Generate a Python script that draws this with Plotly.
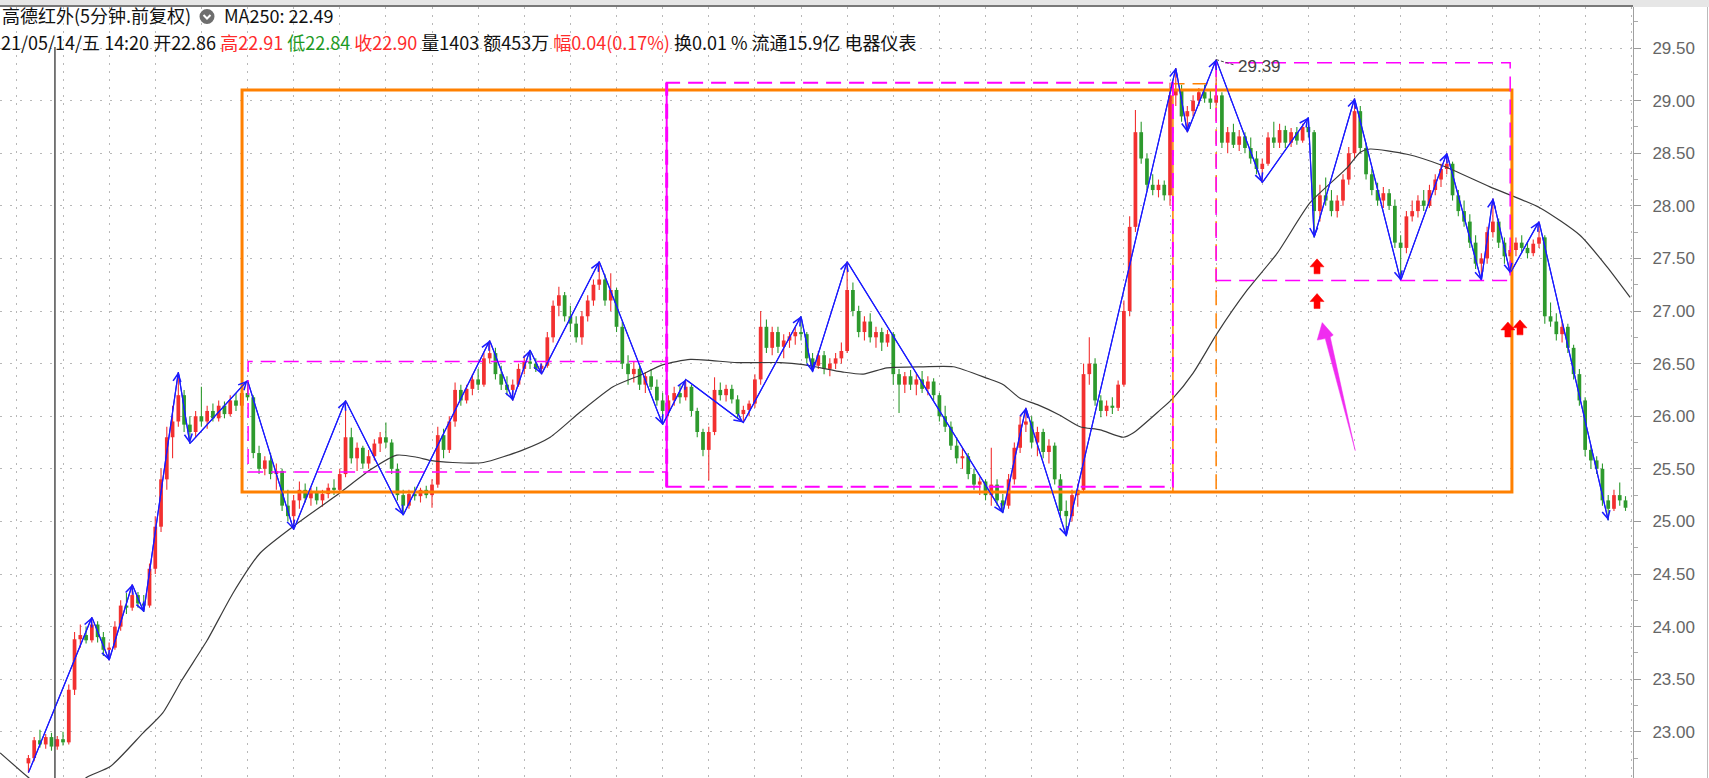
import plotly.graph_objects as go

# ---------------- data ----------------
bar_index = list(range(1, 279))

open_ = [
    22.70, 22.75, 22.92, 22.88, 22.95, 22.86, 22.93, 22.90, 23.40, 23.88,
    23.92, 23.87, 24.02, 23.90, 23.78, 23.80, 24.00, 24.20, 24.18, 24.30,
    24.22, 24.20, 24.55, 24.95, 25.40, 25.80, 25.95, 26.20, 25.92, 25.85,
    26.00, 25.95, 26.05, 25.98, 26.10, 26.02, 26.15, 26.10, 26.22, 26.18,
    25.65, 25.50, 25.58, 25.45, 25.48, 25.15, 25.05, 25.20, 25.30, 25.22,
    25.28, 25.20, 25.26, 25.32, 25.30, 25.45, 25.80, 25.60, 25.70, 25.55,
    25.62, 25.74, 25.80, 25.75, 25.50, 25.25, 25.15, 25.26, 25.24, 25.30,
    25.25, 25.35, 25.82, 25.68, 25.95, 26.25, 26.15, 26.26, 26.35, 26.30,
    26.55, 26.60, 26.40, 26.30, 26.25, 26.30, 26.45, 26.52, 26.50, 26.45,
    26.48, 26.75, 27.05, 27.15, 26.95, 26.88, 26.75, 26.95, 27.10, 27.25,
    27.30, 27.10, 27.20, 26.85, 26.50, 26.40, 26.45, 26.30, 26.38, 26.28,
    26.15, 26.05, 26.15, 26.22, 26.18, 26.28, 26.05, 25.85, 25.68, 25.85,
    26.25, 26.20, 26.26, 26.16, 26.02, 26.06, 26.12, 26.35, 26.85, 26.65,
    26.80, 26.66, 26.72, 26.76, 26.80, 26.78, 26.55, 26.48, 26.58, 26.45,
    26.50, 26.55, 26.62, 27.20, 27.00, 26.80, 26.90, 26.75, 26.80, 26.70,
    26.78, 26.40, 26.30, 26.38, 26.30, 26.35, 26.26, 26.33, 26.20, 26.00,
    25.90, 25.72, 25.60, 25.62, 25.45, 25.35, 25.38, 25.25, 25.35, 25.20,
    25.15, 25.40, 25.70, 25.92, 25.95, 25.75, 25.85, 25.66, 25.72, 25.40,
    25.10, 25.05, 25.25, 25.30, 26.40, 26.50, 26.15, 26.05, 26.10, 26.08,
    26.30, 27.00, 27.80, 28.70, 28.45, 28.20, 28.15, 28.20, 28.10, 29.05,
    29.10, 28.85, 28.90, 29.00, 29.08, 29.02, 28.98, 29.05, 28.60, 28.70,
    28.58, 28.66, 28.55, 28.45, 28.35, 28.40, 28.65, 28.60, 28.72, 28.60,
    28.70, 28.62, 28.75, 28.70, 27.95, 28.10, 28.05, 27.95, 28.05, 28.25,
    28.50, 28.90, 28.55, 28.30, 28.15, 28.05, 28.12, 28.00, 27.65, 27.60,
    27.90, 27.95, 28.05, 28.00, 28.15, 28.25, 28.35, 28.40, 28.10, 27.95,
    27.85, 27.65, 27.45, 27.50, 27.75, 27.85, 27.65, 27.52, 27.58, 27.65,
    27.60, 27.55, 27.64, 27.70, 26.95, 26.90, 26.78, 26.85, 26.65, 26.40,
    26.15, 25.68, 25.58, 25.50, 25.20, 25.12, 25.25, 25.20,
]

high = [
    22.78, 22.95, 23.02, 22.98, 22.99, 22.96, 23.00, 23.45, 23.95, 24.02,
    24.00, 24.09, 24.05, 23.95, 23.85, 24.05, 24.25, 24.32, 24.40, 24.33,
    24.30, 24.60, 25.05, 25.50, 25.90, 26.10, 26.42, 26.25, 26.00, 26.05,
    26.28, 26.10, 26.12, 26.15, 26.14, 26.20, 26.22, 26.28, 26.34, 26.20,
    25.72, 25.62, 25.65, 25.55, 25.50, 25.30, 25.25, 25.38, 25.36, 25.32,
    25.33, 25.30, 25.36, 25.40, 25.50, 26.15, 25.89, 25.75, 25.72, 25.68,
    25.78, 25.85, 25.94, 25.78, 25.55, 25.30, 25.30, 25.33, 25.32, 25.34,
    25.40, 25.90, 25.88, 26.00, 26.32, 26.30, 26.30, 26.40, 26.45, 26.60,
    26.72, 26.65, 26.48, 26.38, 26.35, 26.50, 26.58, 26.63, 26.55, 26.50,
    26.80, 27.10, 27.23, 27.18, 27.05, 26.95, 27.00, 27.15, 27.30, 27.47,
    27.35, 27.36, 27.22, 26.90, 26.58, 26.52, 26.48, 26.42, 26.45, 26.35,
    26.22, 26.20, 26.28, 26.30, 26.35, 26.30, 26.08, 25.88, 25.90, 26.37,
    26.32, 26.30, 26.30, 26.20, 26.10, 26.15, 26.40, 27.00, 26.92, 26.85,
    26.85, 26.78, 26.80, 26.85, 26.95, 26.80, 26.60, 26.62, 26.62, 26.55,
    26.60, 26.70, 27.47, 27.27, 27.05, 26.95, 26.98, 26.85, 26.84, 26.82,
    26.80, 26.45, 26.42, 26.44, 26.40, 26.43, 26.38, 26.36, 26.22, 26.10,
    25.95, 25.80, 25.70, 25.65, 25.50, 25.42, 25.40, 25.70, 25.40, 25.26,
    25.45, 25.75, 26.00, 26.08, 26.00, 25.90, 25.88, 25.78, 25.75, 25.45,
    25.20, 25.30, 25.36, 26.50, 26.75, 26.55, 26.20, 26.15, 26.18, 26.34,
    27.10, 27.90, 28.91, 28.80, 28.50, 28.30, 28.25, 28.24, 29.17, 29.31,
    29.15, 28.95, 29.05, 29.12, 29.15, 29.10, 29.39, 29.08, 28.75, 28.78,
    28.72, 28.70, 28.65, 28.52, 28.45, 28.70, 28.80, 28.78, 28.76, 28.74,
    28.75, 28.78, 28.84, 28.72, 28.20, 28.27, 28.15, 28.10, 28.30, 28.56,
    29.02, 28.95, 28.60, 28.35, 28.22, 28.18, 28.16, 28.06, 27.72, 27.95,
    28.05, 28.10, 28.15, 28.20, 28.30, 28.40, 28.50, 28.42, 28.15, 28.05,
    27.92, 27.72, 27.55, 27.80, 28.07, 27.88, 27.70, 27.62, 27.70, 27.72,
    27.66, 27.68, 27.85, 27.72, 27.08, 26.98, 26.90, 26.88, 26.68, 26.45,
    26.18, 25.72, 25.62, 25.55, 25.25, 25.30, 25.37, 25.24,
]

low = [
    22.61, 22.72, 22.85, 22.84, 22.82, 22.83, 22.87, 22.88, 23.35, 23.80,
    23.84, 23.85, 23.85, 23.72, 23.68, 23.78, 23.96, 24.12, 24.15, 24.18,
    24.14, 24.18, 24.50, 24.90, 25.30, 25.60, 25.90, 25.85, 25.74, 25.80,
    25.90, 25.88, 25.95, 25.95, 25.98, 26.00, 26.05, 26.06, 26.15, 25.60,
    25.45, 25.44, 25.40, 25.30, 25.10, 25.00, 24.92, 25.12, 25.18, 25.15,
    25.16, 25.14, 25.22, 25.25, 25.28, 25.42, 25.55, 25.48, 25.50, 25.50,
    25.58, 25.66, 25.70, 25.45, 25.20, 25.06, 25.12, 25.20, 25.18, 25.22,
    25.13, 25.32, 25.60, 25.65, 25.90, 26.10, 26.12, 26.20, 26.25, 26.28,
    26.50, 26.35, 26.25, 26.20, 26.15, 26.28, 26.40, 26.45, 26.42, 26.40,
    26.46, 26.70, 26.95, 26.90, 26.80, 26.70, 26.68, 26.90, 27.05, 27.20,
    27.05, 27.00, 26.80, 26.45, 26.30, 26.32, 26.25, 26.22, 26.25, 26.10,
    25.92, 26.00, 26.10, 26.12, 26.15, 26.00, 25.80, 25.62, 25.39, 25.82,
    26.15, 26.14, 26.12, 25.98, 25.94, 26.00, 26.08, 26.30, 26.60, 26.58,
    26.60, 26.55, 26.65, 26.68, 26.72, 26.50, 26.42, 26.45, 26.40, 26.38,
    26.45, 26.50, 26.60, 26.95, 26.75, 26.72, 26.70, 26.65, 26.62, 26.66,
    26.30, 26.03, 26.22, 26.25, 26.20, 26.22, 26.20, 26.15, 25.95, 25.85,
    25.68, 25.55, 25.50, 25.40, 25.30, 25.25, 25.20, 25.15, 25.15, 25.08,
    25.12, 25.35, 25.65, 25.85, 25.70, 25.62, 25.60, 25.55, 25.35, 25.05,
    24.86, 25.00, 25.14, 25.28, 26.30, 26.10, 25.99, 26.00, 26.02, 26.05,
    26.28, 26.95, 27.75, 28.40, 28.15, 28.10, 28.08, 28.05, 28.00, 28.95,
    28.80, 28.70, 28.85, 28.95, 28.98, 28.92, 28.95, 28.55, 28.50, 28.55,
    28.52, 28.50, 28.40, 28.30, 28.22, 28.38, 28.55, 28.55, 28.55, 28.56,
    28.58, 28.60, 28.65, 27.70, 27.85, 28.00, 27.90, 27.89, 28.00, 28.20,
    28.45, 28.50, 28.25, 28.10, 28.00, 27.98, 27.96, 27.60, 27.29, 27.55,
    27.85, 27.89, 27.95, 27.98, 28.10, 28.18, 28.30, 28.05, 27.90, 27.80,
    27.60, 27.40, 27.29, 27.45, 27.70, 27.60, 27.45, 27.36, 27.52, 27.55,
    27.50, 27.52, 27.60, 26.88, 26.85, 26.72, 26.70, 26.60, 26.35, 26.10,
    25.62, 25.50, 25.45, 25.15, 25.01, 25.10, 25.15, 25.10,
]

close = [
    22.75, 22.92, 22.88, 22.95, 22.86, 22.93, 22.90, 23.40, 23.88, 23.92,
    23.87, 24.02, 23.90, 23.78, 23.80, 24.00, 24.20, 24.18, 24.30, 24.22,
    24.20, 24.55, 24.95, 25.40, 25.80, 25.95, 26.20, 25.92, 25.85, 26.00,
    25.95, 26.05, 25.98, 26.10, 26.02, 26.15, 26.10, 26.22, 26.18, 25.65,
    25.50, 25.58, 25.45, 25.48, 25.15, 25.05, 25.20, 25.30, 25.22, 25.28,
    25.20, 25.26, 25.32, 25.30, 25.45, 25.80, 25.60, 25.70, 25.55, 25.62,
    25.74, 25.80, 25.75, 25.50, 25.25, 25.15, 25.26, 25.24, 25.30, 25.25,
    25.35, 25.82, 25.68, 25.95, 26.25, 26.15, 26.26, 26.35, 26.30, 26.55,
    26.60, 26.40, 26.30, 26.25, 26.30, 26.45, 26.52, 26.50, 26.45, 26.48,
    26.75, 27.05, 27.15, 26.95, 26.88, 26.75, 26.95, 27.10, 27.25, 27.30,
    27.10, 27.20, 26.85, 26.50, 26.40, 26.45, 26.30, 26.38, 26.28, 26.15,
    26.05, 26.15, 26.22, 26.18, 26.28, 26.05, 25.85, 25.68, 25.85, 26.25,
    26.20, 26.26, 26.16, 26.02, 26.06, 26.12, 26.35, 26.85, 26.65, 26.80,
    26.66, 26.72, 26.76, 26.80, 26.78, 26.55, 26.48, 26.58, 26.45, 26.50,
    26.55, 26.62, 27.20, 27.00, 26.80, 26.90, 26.75, 26.80, 26.70, 26.78,
    26.40, 26.30, 26.38, 26.30, 26.35, 26.26, 26.33, 26.20, 26.00, 25.90,
    25.72, 25.60, 25.62, 25.45, 25.35, 25.38, 25.25, 25.35, 25.20, 25.15,
    25.40, 25.70, 25.92, 25.95, 25.75, 25.85, 25.66, 25.72, 25.40, 25.10,
    25.05, 25.25, 25.30, 26.40, 26.50, 26.15, 26.05, 26.10, 26.08, 26.30,
    27.00, 27.80, 28.70, 28.45, 28.20, 28.15, 28.20, 28.10, 29.05, 29.10,
    28.85, 28.90, 29.00, 29.08, 29.02, 28.98, 29.05, 28.60, 28.70, 28.58,
    28.66, 28.55, 28.45, 28.35, 28.40, 28.65, 28.60, 28.72, 28.60, 28.70,
    28.62, 28.75, 28.70, 27.95, 28.10, 28.05, 27.95, 28.05, 28.25, 28.50,
    28.90, 28.55, 28.30, 28.15, 28.05, 28.12, 28.00, 27.65, 27.60, 27.90,
    27.95, 28.05, 28.00, 28.15, 28.25, 28.35, 28.40, 28.10, 27.95, 27.85,
    27.65, 27.45, 27.50, 27.75, 27.85, 27.65, 27.52, 27.58, 27.65, 27.60,
    27.55, 27.64, 27.70, 26.95, 26.90, 26.78, 26.85, 26.65, 26.40, 26.15,
    25.68, 25.58, 25.50, 25.20, 25.12, 25.25, 25.20, 25.13,
]

# zigzag (swing) vertices: bar index and price
zz_index = [1, 12, 15, 19, 21, 27, 29, 39, 47, 56, 66, 81, 85, 88, 90, 100, 111, 115, 125, 135,
            137, 143, 170, 174, 181, 200, 202, 207, 215, 223, 224, 231, 239, 247, 253, 255, 258, 263, 275]
zz_price = [22.61, 24.09, 23.68, 24.40, 24.14, 26.42, 25.74, 26.34, 24.92, 26.15, 25.06, 26.72, 26.15,
            26.63, 26.40, 27.47, 25.92, 26.35, 25.94, 26.95, 26.42, 27.47, 25.08, 26.08, 24.86, 29.31,
            28.70, 29.39, 28.22, 28.84, 27.70, 29.02, 27.29, 28.50, 27.29, 28.07, 27.36, 27.85, 25.01]

# MA250 line
ma_index = [-3.9, 0.9, 6.0, 11.2, 15.2, 20.9, 24.3, 27.6, 32.0, 36.5, 41.2, 47.6, 55.0, 60.3, 64.9,
            68.4, 70.7, 74.6, 79.9, 86.8, 91.5, 96.7, 102.4, 107.1, 111.1, 115.8, 123.9, 131.4, 135.4,
            142.3, 145.8, 149.9, 156.2, 161.4, 167.3, 170.1, 173.0, 176.0, 179.9, 183.4, 186.9, 190.9,
            192.6, 197.3, 199.5, 203.0, 207.2, 212.4, 217.6, 223.3, 229.7, 232.0, 233.7, 240.1, 245.9,
            254.5, 263.2, 270.1, 274.8, 278.8]
ma_value = [22.80, 22.57, 22.35, 22.57, 22.67, 22.99, 23.18, 23.49, 23.87, 24.32, 24.70, 24.98, 25.27,
            25.49, 25.63, 25.61, 25.58, 25.56, 25.56, 25.68, 25.80, 26.04, 26.28, 26.39, 26.49, 26.54,
            26.51, 26.51, 26.49, 26.42, 26.40, 26.46, 26.47, 26.47, 26.36, 26.30, 26.17, 26.11, 26.01,
            25.90, 25.87, 25.80, 25.84, 26.06, 26.17, 26.41, 26.79, 27.20, 27.55, 28.03, 28.36, 28.51,
            28.54, 28.49, 28.39, 28.18, 27.98, 27.72, 27.42, 27.13]

# drawn boxes: (x0, x1, y0, y1) in bar index / price
orange_box = (38.05, 258.3, 25.28, 29.10)
orange_dash_box = (199.5, 207.0, 25.28, 29.16)
magenta_boxes = [(39.1, 111.7, 25.47, 26.52), (111.7, 199.5, 25.33, 29.17), (207.0, 258.0, 27.29, 29.36)]
crosshair_x = 5.6
crosshair_top = 29.51

red_arrows_x = [224.5, 224.5, 257.6, 259.7]
red_arrows_y = [27.42, 27.09, 26.82, 26.84]
pink_arrow_tip = (225.4, 26.89)

peak_label = "29.39"
peak_label_pos = (210.4, 29.32)

title_text = "高德红外(5分钟.前复权)"
ma_text = "MA250: 22.49"
info_parts = [("21/05/14/五 14:20 开22.86", "#111111"), ("高22.91", "#ff2b2b"), ("低22.84", "#1f9a1f"),
              ("收22.90", "#ff2b2b"), ("量1403 额453万", "#111111"), ("幅0.04(0.17%)", "#ff2b2b"),
              ("换0.01 % 流通15.9亿 电器仪表", "#111111")]

assert len(open_) == len(high) == len(low) == len(close) == len(bar_index)
assert len(zz_index) == len(zz_price) and len(ma_index) == len(ma_value)

# ---------------- geometry ----------------
W, H = 1709, 778
ML, MR, MT, MB = 0, 76, 7, 0
PW, PH = W - ML - MR, H - MT - MB
X_RANGE = [-3.93, 279.3]
Y_RANGE = [22.561, 29.890]


def paper_x(px):
    return (px - ML) / PW


def paper_y(py):
    return (H - MB - py) / PH


RED = "#f23030"
GREEN = "#2e9a2e"
MAGENTA = "#ff00ff"
ORANGE = "#ff8000"
BLUE = "#1a1aff"

fig = go.Figure()

# candle bodies and wicks
for is_up, col in [(True, RED), (False, GREEN)]:
    xs, bases, hts, wx, wy = [], [], [], [], []
    for i, o, h, l, c in zip(bar_index, open_, high, low, close):
        if (c >= o) != is_up:
            continue
        xs.append(i)
        bases.append(min(o, c))
        hts.append(max(abs(c - o), 0.012))
        wx += [i, i, None]
        wy += [l, h, None]
    fig.add_trace(go.Scatter(x=wx, y=wy, mode="lines", line=dict(color=col, width=1.1),
                             hoverinfo="skip", showlegend=False))
    fig.add_trace(go.Bar(x=xs, y=hts, base=bases, width=0.65, marker=dict(color=col, line=dict(width=0)),
                         showlegend=False))

# MA250
fig.add_trace(go.Scatter(x=ma_index, y=ma_value, mode="lines",
                         line=dict(color="#3a3a3a", width=1.2, shape="spline", smoothing=0.6),
                         showlegend=False))
# zigzag
fig.add_trace(go.Scatter(x=zz_index, y=zz_price, mode="lines", line=dict(color=BLUE, width=1.2),
                         showlegend=False))

LINE1_Y, LINE2_Y = 15.5, 42.5

shapes = []
# white header band (hides gridlines behind the header)
shapes.append(dict(type="rect", xref="paper", yref="paper", x0=0, x1=1, y0=paper_y(53), y1=1,
                   fillcolor="white", line=dict(width=0), layer="between"))
# top tab strip
shapes.append(dict(type="rect", xref="paper", yref="paper", x0=0, x1=W / PW, y0=1, y1=paper_y(0),
                   fillcolor="#e6e6e6", line=dict(width=0), layer="above"))
shapes.append(dict(type="line", xref="paper", yref="paper", x0=0, x1=paper_x(1633), y0=paper_y(6), y1=paper_y(6),
                   line=dict(color="#555555", width=1.5), layer="above"))
shapes.append(dict(type="line", xref="paper", yref="paper", x0=paper_x(1707.5), x1=paper_x(1707.5), y0=0, y1=1,
                   line=dict(color="#bbbbbb", width=1), layer="above"))
# crosshair
shapes.append(dict(type="line", xref="x", yref="y", x0=crosshair_x, x1=crosshair_x, y0=Y_RANGE[0], y1=crosshair_top,
                   line=dict(color="#222222", width=1.2), layer="above"))
# boxes
x0, x1, y0, y1 = orange_box
shapes.append(dict(type="rect", xref="x", yref="y", x0=x0, x1=x1, y0=y0, y1=y1,
                   line=dict(color=ORANGE, width=3), layer="above"))
x0, x1, y0, y1 = orange_dash_box
shapes.append(dict(type="rect", xref="x", yref="y", x0=x0, x1=x1, y0=y0, y1=y1,
                   line=dict(color=ORANGE, width=1.5, dash="15px,8px"), layer="above"))
for k, (x0, x1, y0, y1) in enumerate(magenta_boxes):
    shapes.append(dict(type="rect", xref="x", yref="y", x0=x0, x1=x1, y0=y0, y1=y1,
                       line=dict(color=MAGENTA, width=2 if k == 1 else 1.5, dash="15px,8px"), layer="above"))
# thicker left edge of middle magenta box
mb = magenta_boxes[1]
shapes.append(dict(type="line", xref="x", yref="y", x0=mb[0], x1=mb[0], y0=mb[2], y1=mb[3],
                   line=dict(color=MAGENTA, width=3, dash="15px,8px"), layer="above"))
# peak label leader
shapes.append(dict(type="line", xref="x", yref="y", x0=zz_index[27], y0=zz_price[27],
                   x1=peak_label_pos[0] - 0.3, y1=peak_label_pos[1] + 0.02,
                   line=dict(color="#444444", width=1, dash="3px,2px"), layer="above"))
# red up arrows (pixel-sized, anchored at data points)
red_arrow_path = "M -7 0 L 0 8 L 7 0 L 3 0 L 3 -7 L -3 -7 L -3 0 Z"
for ax_, ay_ in zip(red_arrows_x, red_arrows_y):
    shapes.append(dict(type="path", xref="x", yref="y", xsizemode="pixel", ysizemode="pixel",
                       xanchor=ax_, yanchor=ay_, path=red_arrow_path, fillcolor="#ff0000",
                       line=dict(color="#ff0000", width=0.5), layer="above"))
# magenta pointer arrow
pink_path = "M 0 0 L -5 -17.5 L 3 -16 L 33 -128 L 8 -14.5 L 11 -12.5 Z"
shapes.append(dict(type="path", xref="x", yref="y", xsizemode="pixel", ysizemode="pixel",
                   xanchor=pink_arrow_tip[0], yanchor=pink_arrow_tip[1], path=pink_path,
                   fillcolor="#f02cf0", line=dict(color="#f02cf0", width=0.5), layer="above"))
# header icon
shapes.append(dict(type="circle", xref="paper", yref="paper", xsizemode="pixel", ysizemode="pixel",
                   xanchor=paper_x(207), yanchor=paper_y(LINE1_Y + 1), x0=-7.5, x1=7.5, y0=-7.5, y1=7.5,
                   fillcolor="#6e6e6e", line=dict(width=0), layer="above"))
shapes.append(dict(type="path", xref="paper", yref="paper", xsizemode="pixel", ysizemode="pixel",
                   xanchor=paper_x(207), yanchor=paper_y(LINE1_Y + 1), path="M -3.5 1.5 L 0 -2 L 3.5 1.5",
                   line=dict(color="white", width=2), layer="above"))

annotations = []
# zigzag arrowheads
for k in range(1, len(zz_index)):
    annotations.append(dict(x=zz_index[k], y=zz_price[k], ax=zz_index[k - 1], ay=zz_price[k - 1],
                            xref="x", yref="y", axref="x", ayref="y", text="", showarrow=True,
                            arrowhead=5, arrowsize=1.4, arrowwidth=1.1, arrowcolor=BLUE, standoff=0))
annotations.append(dict(x=peak_label_pos[0], y=peak_label_pos[1], xref="x", yref="y", text=peak_label,
                        showarrow=False, xanchor="left", yanchor="middle",
                        font=dict(family="Liberation Sans", size=17, color="#444444")))
hdr_font = dict(family="Noto Sans CJK SC", size=18, color="#111111")
hdr_box = dict(showarrow=False, xanchor="left", yanchor="middle", font=hdr_font, borderpad=0,
               xref="paper", yref="paper")
annotations.append(dict(x=paper_x(1), y=paper_y(LINE1_Y), text=title_text, **hdr_box))
annotations.append(dict(x=paper_x(223), y=paper_y(LINE1_Y), text=ma_text, **hdr_box))
info_html = " ".join(f"<span style='color:{c}'>{t}</span>" for t, c in info_parts)
annotations.append(dict(x=paper_x(0), y=paper_y(LINE2_Y), text=info_html, **hdr_box))

fig.update_layout(
    width=W, height=H,
    margin=dict(l=ML, r=MR, t=MT, b=MB, pad=0),
    paper_bgcolor="white", plot_bgcolor="white",
    barmode="overlay", showlegend=False,
    xaxis=dict(range=X_RANGE, showticklabels=False, ticks="", showgrid=True, gridcolor="#b8b8b8",
               griddash="2px,6px", gridwidth=1, tick0=7, dtick=8, zeroline=False, showline=False),
    yaxis=dict(range=Y_RANGE, side="right", tick0=0, dtick=0.5, tickformat=".2f", showgrid=True,
               gridcolor="#b8b8b8", griddash="2px,8px", gridwidth=1, ticks="outside", ticklen=7,
               tickcolor="#9a9a9a", showline=True, linecolor="#a0a0a0", linewidth=1, zeroline=False,
               ticklabelstandoff=8,
               tickfont=dict(family="Liberation Sans", size=17, color="#666666"),
               minor=dict(tick0=0, dtick=0.25, ticks="outside", ticklen=4, tickcolor="#aaaaaa", showgrid=False)),
    shapes=shapes, annotations=annotations,
)

fig.write_html("out.html", config={"displayModeBar": False},
               post_script="document.body.style.margin='0';document.body.style.overflow='hidden';")
